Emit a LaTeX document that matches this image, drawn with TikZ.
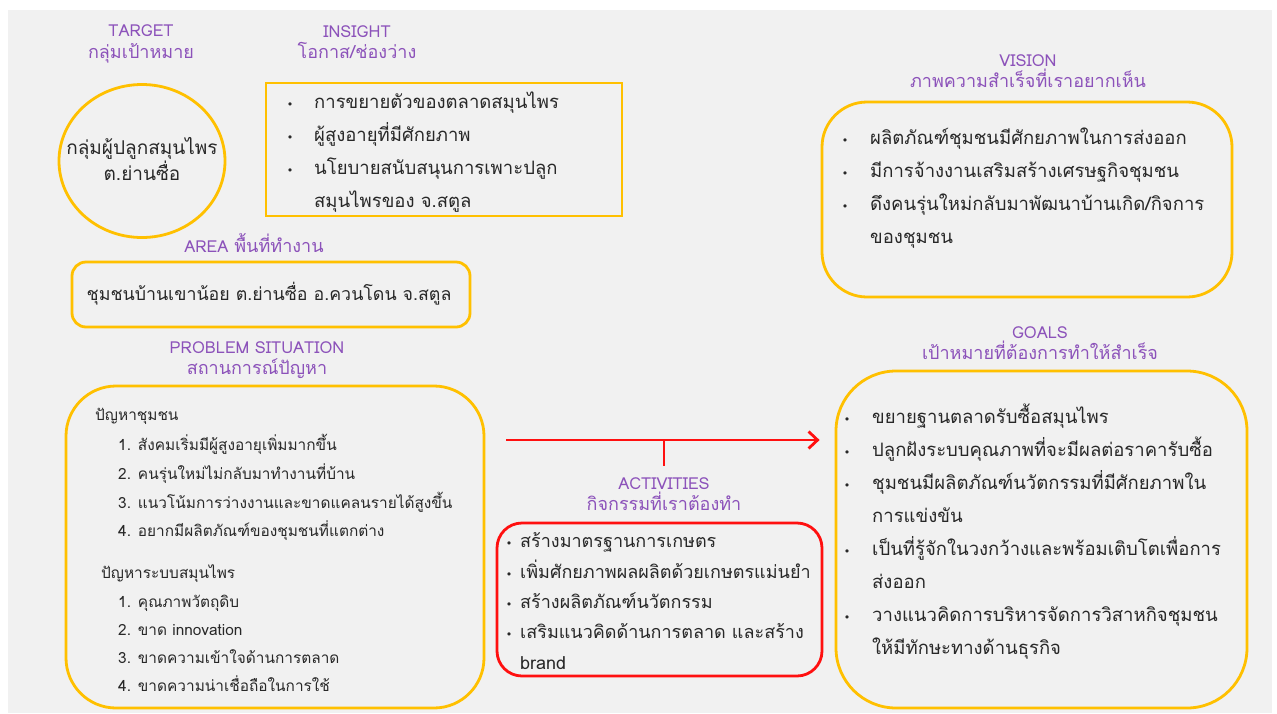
\documentclass[tikz,border=0pt]{standalone}
\usepackage{fontspec}
\setmainfont[Script=Thai]{Loma}
\newfontfamily\dejavu{DejaVu Sans}
\usetikzlibrary{arrows.meta,shapes.geometric}
\definecolor{bg}{RGB}{241,241,241}
\definecolor{ttl}{RGB}{140,82,186}
\definecolor{yel}{RGB}{255,192,0}
\definecolor{rd}{RGB}{255,16,16}
\definecolor{txt}{RGB}{40,40,40}
\newcommand{\lat}[1]{{\fontsize{16.5}{21}\selectfont #1}}
\tikzset{
  ttlnode/.style={text=ttl, align=center, inner sep=0pt, font=\fontsize{18}{21.5}\selectfont},
  body/.style={text=txt, inner sep=0pt, anchor=base west, font=\fontsize{18.5}{20}\selectfont},
  small/.style={text=txt, inner sep=0pt, anchor=base west, font=\fontsize{15.4}{18}\selectfont},
  act/.style={text=txt, inner sep=0pt, anchor=base west, font=\fontsize{18}{18}\selectfont},
  bul/.style={text=txt, inner sep=0pt, anchor=base, font=\dejavu\fontsize{11}{14}\selectfont},
  ybox/.style={draw=yel, line width=2.8pt, inner sep=0pt},
  rbox/.style={draw=rd, line width=2.8pt, inner sep=0pt},
}
\begin{document}
\begin{tikzpicture}[x=1pt,y=-1pt]
\useasboundingbox (0,0) rectangle (1277,713);
\fill[white] (0,0) rectangle (1277,713);
\fill[bg] (8,10) rectangle (1272,713);

% TARGET
\node[ttlnode] (ttarget) at (141,44) {\lat{TARGET}\\กลุ่มเป้าหมาย};
\node[ybox, ellipse, minimum width=166, minimum height=153] (target) at (142,161) {};
\node[text=txt, align=center, inner sep=0pt, font=\fontsize{19}{22}\selectfont] (targettxt) at (142,159) {กลุ่มผู้ปลูกสมุนไพร\\ต.ย่านซื่อ};

% INSIGHT
\node[ttlnode] (tinsight) at (357,42) {\lat{INSIGHT}\\โอกาส/ช่องว่าง};
\node[ybox, minimum width=356, minimum height=133] (insight) at (444,149.5) {};
\node[bul] (ib1) at (290,108) {•};
\node[body] (i1) at (314,108) {การขยายตัวของตลาดสมุนไพร};
\node[bul] (ib2) at (290,141) {•};
\node[body] (i2) at (314,141) {ผู้สูงอายุที่มีศักยภาพ};
\node[bul] (ib3) at (290,174) {•};
\node[body] (i3) at (314,174) {นโยบายสนับสนุนการเพาะปลูก};
\node[body] (i4) at (314,207) {สมุนไพรของ จ.สตูล};

% AREA
\node[ttlnode] (tarea) at (254,243.5) {\lat{AREA} พื้นที่ทำงาน};
\node[ybox, rounded corners=14, minimum width=398, minimum height=65] (area) at (271,294.5) {};
\node[body, anchor=base, font=\fontsize{17.8}{20}\selectfont] (areatxt) at (269,300) {ชุมชนบ้านเขาน้อย ต.ย่านซื่อ อ.ควนโดน จ.สตูล};

% PROBLEM
\node[ttlnode] (tprob) at (257,360) {\lat{PROBLEM SITUATION}\\สถานการณ์ปัญหา};
\node[ybox, rounded corners=50, minimum width=418, minimum height=322] (prob) at (275,547) {};
\node[small] (p0) at (95,420) {ปัญหาชุมชน};
\node[small] (p1) at (118,450) {1. สังคมเริ่มมีผู้สูงอายุเพิ่มมากขึ้น};
\node[small] (p2) at (118,479) {2. คนรุ่นใหม่ไม่กลับมาทำงานที่บ้าน};
\node[small] (p3) at (118,508) {3. แนวโน้มการว่างงานและขาดแคลนรายได้สูงขึ้น};
\node[small] (p4) at (118,536) {4. อยากมีผลิตภัณฑ์ของชุมชนที่แตกต่าง};
\node[small] (q0) at (101,578) {ปัญหาระบบสมุนไพร};
\node[small] (q1) at (118,607) {1. คุณภาพวัตถุดิบ};
\node[small] (q2) at (118,635) {2. ขาด innovation};
\node[small] (q3) at (118,663) {3. ขาดความเข้าใจด้านการตลาด};
\node[small] (q4) at (118,691) {4. ขาดความน่าเชื่อถือในการใช้};

% GOALS
\node[ttlnode] (tgoals) at (1040,343) {\lat{GOALS}\\เป้าหมายที่ต้องการทำให้สำเร็จ};
\node[ybox, rounded corners=60, minimum width=411, minimum height=337] (goals) at (1041.5,539.5) {};
\node[bul] (gb1) at (847,423) {•};
\node[body] (g1) at (872,423) {ขยายฐานตลาดรับซื้อสมุนไพร};
\node[bul] (gb2) at (847,456) {•};
\node[body] (g2) at (872,456) {ปลูกฝังระบบคุณภาพที่จะมีผลต่อราคารับซื้อ};
\node[bul] (gb3) at (847,489) {•};
\node[body] (g3) at (872,489) {ชุมชนมีผลิตภัณฑ์นวัตกรรมที่มีศักยภาพใน};
\node[body] (g4) at (872,522) {การแข่งขัน};
\node[bul] (gb5) at (847,555) {•};
\node[body] (g5) at (872,555) {เป็นที่รู้จักในวงกว้างและพร้อมเติบโตเพื่อการ};
\node[body] (g6) at (872,588) {ส่งออก};
\node[bul] (gb7) at (847,621) {•};
\node[body] (g7) at (872,621) {วางแนวคิดการบริหารจัดการวิสาหกิจชุมชน};
\node[body] (g8) at (872,654) {ให้มีทักษะทางด้านธุรกิจ};

% VISION
\node[ttlnode] (tvision) at (1028,71) {\lat{VISION}\\ภาพความสำเร็จที่เราอยากเห็น};
\node[ybox, rounded corners=45, minimum width=410, minimum height=195] (vision) at (1027,199.5) {};
\node[bul] (vb1) at (845,144) {•};
\node[body] (v1) at (870,144) {ผลิตภัณฑ์ชุมชนมีศักยภาพในการส่งออก};
\node[bul] (vb2) at (845,177) {•};
\node[body] (v2) at (870,177) {มีการจ้างงานเสริมสร้างเศรษฐกิจชุมชน};
\node[bul] (vb3) at (845,210) {•};
\node[body] (v3) at (870,210) {ดึงคนรุ่นใหม่กลับมาพัฒนาบ้านเกิด/กิจการ};
\node[body] (v4) at (870,243) {ของชุมชน};

% ACTIVITIES
\node[ttlnode] (tact) at (664,494) {\lat{ACTIVITIES}\\กิจกรรมที่เราต้องทำ};
\node[rbox, rounded corners=25, minimum width=325, minimum height=153] (actbox) at (659.5,599.5) {};
\node[bul] (ab1) at (509,547) {•};
\node[act] (a1) at (520,547) {สร้างมาตรฐานการเกษตร};
\node[bul] (ab2) at (509,578) {•};
\node[act] (a2) at (520,578) {เพิ่มศักยภาพผลผลิตด้วยเกษตรแม่นยำ};
\node[bul] (ab3) at (509,608) {•};
\node[act] (a3) at (520,608) {สร้างผลิตภัณฑ์นวัตกรรม};
\node[bul] (ab4) at (509,638) {•};
\node[act] (a4) at (520,638) {เสริมแนวคิดด้านการตลาด และสร้าง};
\node[act] (a5) at (520,669) {brand};

% arrow
\coordinate (mid) at (664,440);
\coordinate (ticktop) at (664,466);
\draw[rd, line width=2.8pt, -{Straight Barb[length=9pt,width=17pt,line width=2.8pt]}]
  ([xshift=21pt]prob.east |- mid) -- ([xshift=-15pt]goals.west |- mid);
\draw[rd, line width=2.8pt] (mid) -- (ticktop);
\end{tikzpicture}
\end{document}
